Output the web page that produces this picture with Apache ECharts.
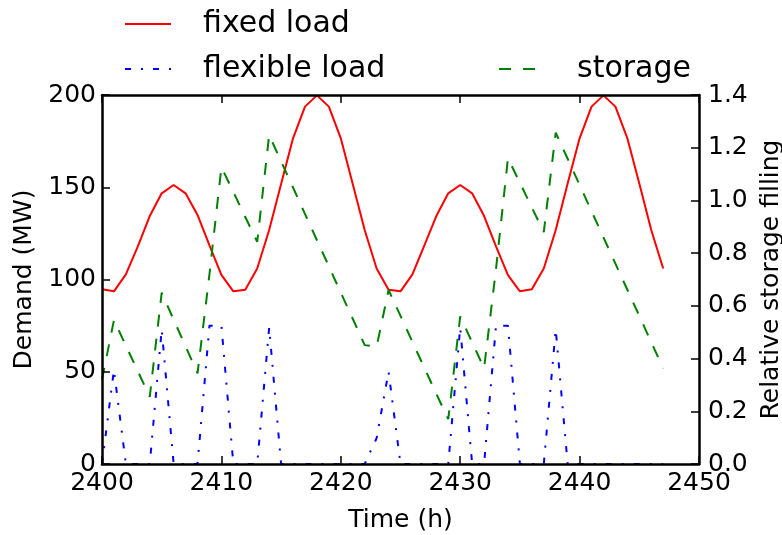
<!DOCTYPE html>
<html>
<head>
<meta charset="utf-8">
<script src="https://cdn.jsdelivr.net/npm/echarts@6/dist/echarts.min.js"></script>
<style>
html,body{margin:0;padding:0;background:#fff;}
#chart{width:782px;height:535px;}
</style>
</head>
<body>
<div id="chart"></div>
<script>
const hours = [2400,2401,2402,2403,2404,2405,2406,2407,2408,2409,2410,2411,2412,2413,2414,2415,2416,2417,2418,2419,2420,2421,2422,2423,
               2424,2425,2426,2427,2428,2429,2430,2431,2432,2433,2434,2435,2436,2437,2438,2439,2440,2441,2442,2443,2444,2445,2446,2447];
const fixedLoad = [94.7,93.6,102.8,118.0,134.4,146.7,151.2,146.7,135.0,118.5,102.5,93.6,94.5,106.0,126.8,151.8,176.5,193.7,199.8,193.7,176.5,151.8,126.8,106.0,
                   94.5,93.6,102.8,118.5,134.4,146.7,151.2,146.7,134.4,118.0,102.4,93.6,94.7,106.0,126.8,152.0,176.5,193.7,199.8,193.7,176.5,152.0,126.8,106.0];
const flexibleLoad = [0,51,0,0,0,73,0,0,0,75,75,0,0,0,74,0,0,0,0,0,0,0,0,14,
                      50,0,0,0,0,0,74,0,0,75,75,0,0,0,73,0,0,0,0,0,0,0,0,0];
const storageFilling = [0.32,0.546,0.449,0.352,0.255,0.65,0.548,0.446,0.344,0.72,1.126,1.032,0.937,0.843,1.248,1.148,1.049,0.949,0.849,0.75,0.65,0.551,0.451,0.445,
                        0.66,0.562,0.463,0.365,0.266,0.17,0.56,0.462,0.363,0.74,1.16,1.067,0.973,0.88,1.257,1.158,1.059,0.959,0.86,0.76,0.661,0.562,0.462,0.363];
const xTicks = {min: 2400, max: 2450, interval: 10};
const demandTicks = {min: 0, max: 200, interval: 50};
const storageTicks = {min: 0, max: 1.4, interval: 0.2};

const pairs = (vals) => hours.map((h, i) => [h, vals[i]]);
const FONT = 'DejaVu Sans';
const tickFont = {fontFamily: FONT, fontSize: 25, color: '#000'};

const chart = echarts.init(document.getElementById('chart'), null, {renderer: 'canvas'});
const legendBase = {
  orient: 'horizontal', padding: 0, itemWidth: 46, itemHeight: 14, selectedMode: false,
  itemStyle: {color: 'rgba(0,0,0,0)', borderWidth: 0, opacity: 0},
  textStyle: {fontFamily: FONT, fontSize: 30, color: '#000', padding: [0, 0, 0, 27]}
};
chart.setOption({
  animation: false,
  backgroundColor: '#fff',
  grid: {left: 102, right: 83, top: 95, bottom: 71, containLabel: false, outerBoundsMode: 'none'},
  legend: [
    Object.assign({}, legendBase, {data: ['fixed load'], left: 124, top: 9}),
    Object.assign({}, legendBase, {data: ['flexible load'], left: 124, top: 54}),
    Object.assign({}, legendBase, {data: ['storage'], left: 498, top: 54})
  ],
  xAxis: [
    {type: 'value', position: 'bottom', min: xTicks.min, max: xTicks.max, interval: xTicks.interval, z: 5,
     name: 'Time (h)', nameLocation: 'middle', nameGap: 44, nameTextStyle: tickFont,
     axisLine: {show: true, onZero: false, lineStyle: {color: '#000', width: 2.5}},
     axisTick: {show: true, inside: true, length: 8, lineStyle: {color: '#000', width: 1.5}},
     axisLabel: Object.assign({margin: 7, formatter: (v) => String(v)}, tickFont),
     splitLine: {show: false}},
    {type: 'value', position: 'top', min: xTicks.min, max: xTicks.max, interval: xTicks.interval, z: 5,
     axisLine: {show: true, onZero: false, lineStyle: {color: '#000', width: 2.5}},
     axisTick: {show: true, inside: true, length: 8, lineStyle: {color: '#000', width: 1.5}},
     axisLabel: {show: false}, splitLine: {show: false}}
  ],
  yAxis: [
    {type: 'value', position: 'left', min: demandTicks.min, max: demandTicks.max, interval: demandTicks.interval, z: 5,
     name: 'Demand (MW)', nameLocation: 'middle', nameGap: 57, nameTextStyle: tickFont,
     axisLine: {show: true, onZero: false, lineStyle: {color: '#000', width: 2.5}},
     axisTick: {show: true, inside: true, length: 8, lineStyle: {color: '#000', width: 1.5}},
     axisLabel: Object.assign({margin: 6}, tickFont),
     splitLine: {show: false}},
    {type: 'value', position: 'right', min: storageTicks.min, max: storageTicks.max, interval: storageTicks.interval, z: 5,
     name: 'Relative storage filling', nameLocation: 'middle', nameRotate: 90, nameGap: 60, nameTextStyle: tickFont,
     axisLine: {show: true, onZero: false, lineStyle: {color: '#000', width: 2.5}},
     axisTick: {show: true, inside: true, length: 8, lineStyle: {color: '#000', width: 1.5}},
     axisLabel: Object.assign({margin: 9, formatter: (v) => v.toFixed(1)}, tickFont),
     splitLine: {show: false}}
  ],
  series: [
    {name: 'fixed load', type: 'line', xAxisIndex: 0, yAxisIndex: 0, data: pairs(fixedLoad),
     symbol: 'none', showSymbol: false, color: '#ff0000',
     lineStyle: {color: '#ff0000', width: 2}},
    {name: 'flexible load', type: 'line', xAxisIndex: 0, yAxisIndex: 0, data: pairs(flexibleLoad),
     symbol: 'none', showSymbol: false, color: '#0000ff',
     lineStyle: {color: '#0000ff', width: 2, type: [6, 10, 2, 10]}},
    {name: 'storage', type: 'line', xAxisIndex: 0, yAxisIndex: 1, data: pairs(storageFilling),
     symbol: 'none', showSymbol: false, color: '#008000',
     lineStyle: {color: '#008000', width: 2, type: [12, 12]}}
  ]
});
</script>
</body>
</html>
